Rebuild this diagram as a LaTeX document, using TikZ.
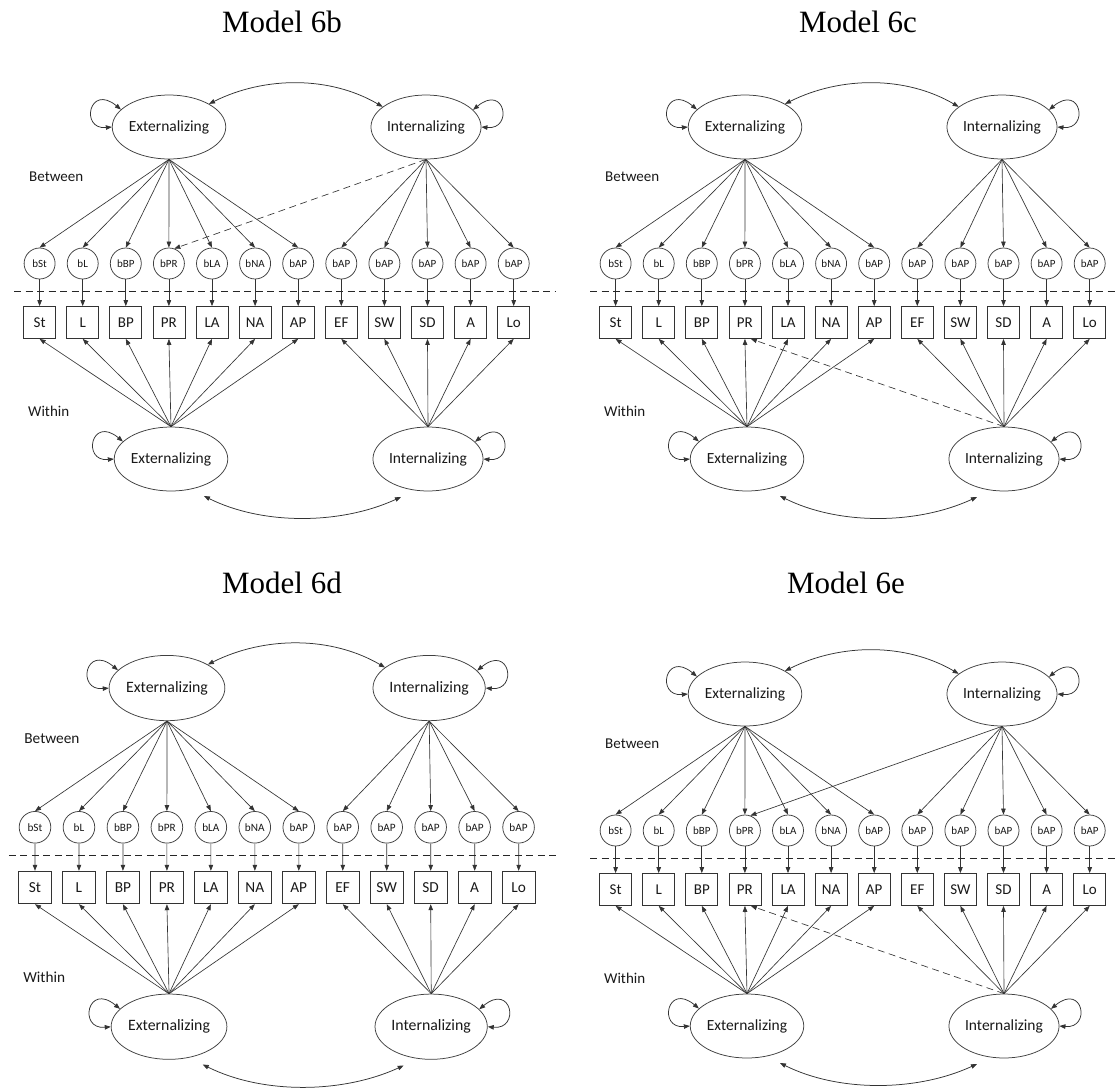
\documentclass[tikz,border=0pt]{standalone}
\usepackage{fontspec}
\setmainfont{Carlito}
\newfontfamily\titlefont{Liberation Serif}
\usetikzlibrary{shapes.geometric,arrows.meta}

\tikzset{
  lat/.style={ellipse, draw=black!75, line width=0.75pt, minimum width=106pt, minimum height=64pt, inner sep=0pt, font=\fontsize{15.5}{16}\selectfont, text=black!90},
  obs/.style={rectangle, draw=black!80, line width=0.75pt, minimum width=32pt, minimum height=32pt, inner sep=0pt, font=\fontsize{15}{15}\selectfont, text=black!90},
  bcirc/.style={circle, draw=black!75, line width=0.75pt, minimum size=31pt, inner sep=0pt, font=\fontsize{11}{11}\selectfont, text=black!90},
  ld/.style={-{Triangle[length=6pt,width=4.5pt]}, line width=0.65pt, draw=black!80},
  cov/.style={{Triangle[length=6pt,width=4.5pt]}-{Triangle[length=6pt,width=4.5pt]}, line width=0.75pt, draw=black!80},
  sect/.style={font=\fontsize{15}{16}\selectfont, anchor=west, inner sep=0pt, text=black!90},
  ttl/.style={font=\titlefont\fontsize{31}{34}\selectfont, inner sep=0pt},
  divider/.style={dash pattern=on 7pt off 4.5pt, line width=0.75pt, draw=black!85},
  crossld/.style={ld, dash pattern=on 7pt off 4.5pt},
}

% #1 = prefix, #2 = cross loadings (b, c, d, e), #3 = right end of divider
\newcommand{\sempanel}[3]{%
  \node[lat] (#1TE) at (169,127) {Externalizing};
  \node[lat] (#1TI) at (426,127) {Internalizing};
  \node[lat] (#1WE) at (171,459) {Externalizing};
  \node[lat] (#1WI) at (428,459) {Internalizing};
  \node[sect] (#1btw) at (29,177) {Between};
  \node[sect] (#1wth) at (28,411) {Within};
  \foreach \i/\b/\o in {0/bSt/St,1/bL/L,2/bBP/BP,3/bPR/PR,4/bLA/LA,5/bNA/NA,6/bAP/AP,7/bAP/EF,8/bAP/SW,9/bAP/SD,10/bAP/A,11/bAP/Lo}{
    \node[bcirc] (#1c\i) at ({39.6+43.1*\i},263.5) {\b};
    \node[obs] (#1o\i) at ({39.6+43.1*\i},322.5) {\o};
    \draw[ld] (#1c\i) -- (#1o\i);
  }
  \foreach \i in {0,...,6}{
    \draw[ld] (#1TE.south) -- (#1c\i.north);
    \draw[ld] (#1WE.north) -- (#1o\i.south);
  }
  \foreach \i in {7,...,11}{
    \draw[ld] (#1TI.south) -- (#1c\i.north);
    \draw[ld] (#1WI.north) -- (#1o\i.south);
  }
  % divider
  \coordinate (#1dl) at (14,291);
  \coordinate (#1dr) at (#3,291);
  \draw[divider] (#1dl) -- (#1dr);
  % variances
  \draw[cov] (#1TE.west) .. controls +(-32,3) and +(-32,-26.5) .. (#1TE.160);
  \draw[cov] (#1TI.east) .. controls +(32,3) and +(32,-26.5) .. (#1TI.20);
  \draw[cov] (#1WE.west) .. controls +(-32,3) and +(-32,-26.5) .. (#1WE.160);
  \draw[cov] (#1WI.east) .. controls +(32,3) and +(32,-26.5) .. (#1WI.20);
  % covariances
  \draw[cov] (#1TE.30) .. controls (265,76) and (330,76) .. (#1TI.155);
  \coordinate (#1cl) at (204,496);
  \coordinate (#1cr) at (401,497);
  \draw[cov] (#1cl) .. controls (262,525) and (340,525) .. (#1cr);
  % cross loadings
  \if b#2 \draw[crossld] (#1TI.south) -- (#1c3.70); \fi
  \if c#2 \draw[crossld] (#1WI.north) -- (#1o3.-70); \fi
  \if e#2
    \draw[ld] (#1TI.south) -- (#1c3.70);
    \draw[crossld] (#1WI.north) -- (#1o3.-70);
  \fi
}

\begin{document}
\begin{tikzpicture}[x=1pt,y=-1pt]
  \fill[white] (0,0) rectangle (1120,1090);
  \useasboundingbox (0,0) rectangle (1120,1090);

  \node[ttl] (t6b) at (282,22) {Model 6b};
  \node[ttl] (t6c) at (858,22) {Model 6c};
  \node[ttl] (t6d) at (282,583) {Model 6d};
  \node[ttl] (t6e) at (846,583) {Model 6e};

  \begin{scope}
    \sempanel{pb}{b}{555}
  \end{scope}
  \begin{scope}[shift={(576,0)}]
    \sempanel{pc}{c}{542}
  \end{scope}
  \begin{scope}[shift={(-5.4,558.5)}, scale=1.02, transform shape]
    \sempanel{pd}{d}{552}
  \end{scope}
  \begin{scope}[shift={(576,567)}]
    \sempanel{pe}{e}{542}
  \end{scope}
\end{tikzpicture}
\end{document}
